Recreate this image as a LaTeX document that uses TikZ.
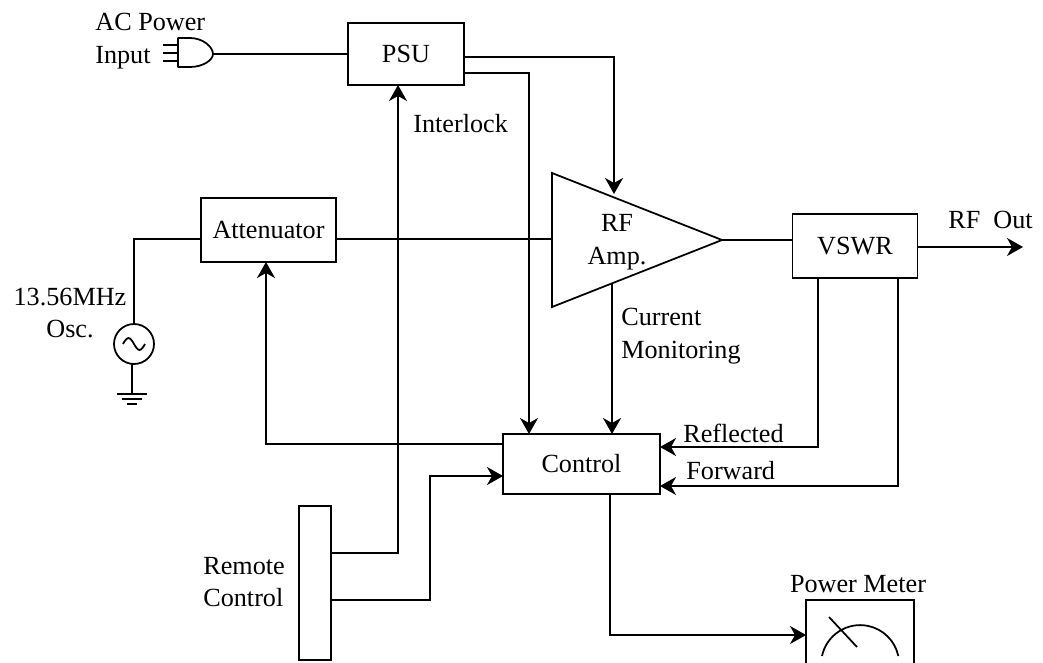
\documentclass[tikz,border=0pt]{standalone}
\usepackage{fontspec}
\setmainfont{Liberation Serif}
\usetikzlibrary{positioning, shapes.geometric, arrows.meta}
\tikzset{
  lbl/.style={inner sep=0pt, font=\fontsize{14.9}{18.7}\selectfont},
  blockbox/.style={rectangle, draw, line width=1pt, inner sep=0pt, outer sep=0pt, font=\fontsize{14.9}{18.7}\selectfont},
  wire/.style={line width=1pt},
  sig/.style={line width=1pt, -{Stealth[length=0.32cm, width=0.36cm, inset=0.1cm]}}
}
\begin{document}
\begin{tikzpicture}[x=0.02cm, y=-0.02cm]
\useasboundingbox (0,0) rectangle (1043,662);

% Blocks
\node[blockbox, minimum width=2.32cm, minimum height=1.24cm] (psu) at (406,54) {PSU};
\node[blockbox, minimum width=2.7cm, minimum height=1.28cm] (atten) at (268.5,230) {Attenuator};
\node[blockbox, minimum width=2.5cm, minimum height=1.28cm] (vswr) at (855,246) {VSWR};
\node[blockbox, minimum width=3.14cm, minimum height=1.2cm] (control) at (581.5,464) {Control};
\node[blockbox, minimum width=0.64cm, minimum height=3.08cm] (remote) at (315,583) {};
\node[blockbox, minimum width=2.16cm, minimum height=1.6cm] (meter) at (860,640) {};
\node[isosceles triangle, isosceles triangle stretches, shape border rotate=0, draw, line width=1pt, inner sep=0pt, outer sep=0pt, minimum width=2.68cm, minimum height=3.4cm, anchor=apex] (amp) at (722,240) {};
\node[circle, draw, line width=1pt, minimum size=0.8cm, inner sep=0pt, outer sep=0pt] (osc) at (134,344) {};

% Labels
\node[lbl, anchor=west, align=left] (aclabel) at (95,41) {AC Power\\Input};
\node[lbl, anchor=west] (interlock) at (413,124) {Interlock};
\node[lbl, align=center] (osclabel) at (70,313) {13.56MHz\\Osc.};
\node[lbl, align=center] (amplabel) at (617,242) {RF\\Amp.};
\node[lbl, anchor=west] (rfout) at (948,220) {RF\ \ Out};
\node[lbl, anchor=west, align=left] (current) at (621,336) {Current\\Monitoring};
\node[lbl, anchor=west] (reflected) at (683,433) {Reflected};
\node[lbl, anchor=west] (forward) at (686,471) {Forward};
\node[lbl, anchor=west, align=left] (remotelabel) at (203,582) {Remote\\Control};
\node[lbl] (meterlabel) at (858,584) {Power Meter};

% Ports
\coordinate (plugtip) at (213,54);
\coordinate (psuoutamp) at (464,57);
\coordinate (psuoutctl) at (464,73);
\coordinate (ampin) at (614,194);
\coordinate (ampout) at (612,284);
\coordinate (rfend) at (1023,247);
\coordinate (vswrout) at (918,247);
\coordinate (vswrref) at (818,278);
\coordinate (vswrfwd) at (898,278);
\coordinate (ctlref) at (660,447);
\coordinate (ctlfwd) at (660,486);
\coordinate (ctlatt) at (503,444);
\coordinate (ctlrem) at (503,476);
\coordinate (remtop) at (331,553);
\coordinate (rembot) at (331,600);
\coordinate (meterin) at (806,635);
\coordinate (gnd) at (132,394);

% AC plug
\draw[wire, line join=round] (178,38) -- (190,38) .. controls (203,38) and (213,47) .. (213,54) .. controls (213,60) and (203,67) .. (190,67) -- (178,67) -- cycle;
\foreach \y in {45,53,61}
  \draw[wire] (163,\y) -- (177,\y);
\draw[wire] (plugtip) -- (psu.west);

% Signal path
\draw[wire] (osc.north) -- (134,239) -- (atten.west |- 0,239);
\draw[wire] (atten.east |- 0,239) -- (amp.lower side |- 0,239);
\draw[wire] (amp.apex) -- (vswr.west |- amp.apex);
\draw[sig] (vswrout) -- (rfend);

% Oscillator and ground
\draw[wire] (123,344) sin (128.5,338) cos (134,344) sin (139.5,350) cos (145,344);
\draw[wire] (gnd |- osc.south) -- (gnd);
\draw[wire] (117,394) -- (147,394);
\draw[wire] (122,399) -- (142,399);
\draw[wire] (127,404) -- (137,404);

% Supply and monitoring
\draw[sig] (psuoutamp) -| (ampin);
\draw[sig] (psuoutctl) -| (529,434);
\draw[sig] (ampout) -- (ampout |- control.north);
\draw[sig] (vswrref) |- (ctlref);
\draw[sig] (vswrfwd) |- (ctlfwd);

% Control lines
\draw[sig] (ctlatt) -| (atten.south -| 266,0);
\draw[sig] (remtop) -| (398,85);
\draw[sig] (rembot) -- (430,600) -- (430,476) -- (ctlrem);
\draw[sig] (control.south -| 610,0) |- (meterin);

% Meter dial
\draw[wire] (822,656) arc[start angle=192, end angle=348, radius=39];
\draw[wire] (829,617) -- (857,647);
\end{tikzpicture}
\end{document}
